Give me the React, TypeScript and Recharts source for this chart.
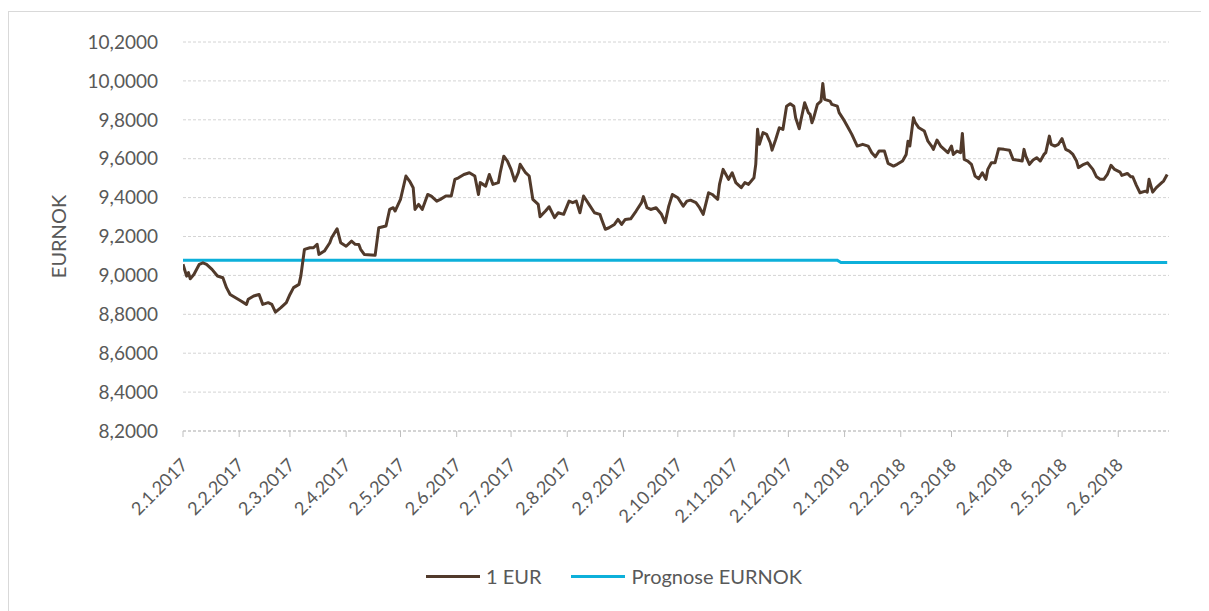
import React from 'react';
import { LineChart, Line, XAxis, YAxis, CartesianGrid, Legend } from 'recharts';

// day offsets counted from 2.1.2017
const dayOffsets = [
  0, 2, 3, 4, 6, 9, 11, 13, 16, 19, 22, 24, 26, 29, 32, 35, 36, 39, 42, 44, 47, 49, 51, 54, 57, 59, 61, 64, 65, 67, 70, 72, 74, 75, 78, 81, 82, 85, 87, 90, 93, 95,
  97, 98, 100, 106, 108, 112, 114, 116, 117, 120, 123, 125, 127, 128, 130, 132, 135, 137, 140, 142, 145, 148, 150, 152, 155, 158, 161, 163, 164, 167, 169, 171, 174, 175, 177, 179, 181, 183, 185, 186, 189, 191, 193, 196, 197, 200, 202,
  205, 207, 210, 213, 215, 217, 219, 221, 224, 227, 230, 231, 233, 235, 238, 240, 242, 244, 247, 250, 253, 254, 256, 258, 261, 264, 266, 268, 270, 273, 276, 278, 280, 283, 285, 287, 290, 292, 295, 296, 298, 299, 301, 303, 305,
  308, 310, 312, 315, 316, 317, 318, 320, 322, 324, 325, 327, 329, 331, 333, 335, 337, 338, 340, 341, 343, 345, 346, 347, 348, 350, 352, 353, 354, 357, 358, 361, 362, 365, 367, 369, 372, 375, 378, 380, 382, 384, 387, 389, 392, 394, 397, 399, 400, 401, 403, 404, 406, 409, 411,
  413, 414, 416, 418, 420, 422, 424, 425, 427, 429, 430, 431, 433, 435, 437, 439, 441, 443, 444, 446, 448, 450, 453, 456, 458, 460, 463, 464, 465, 467, 469, 471, 473, 475, 476, 478, 479, 481, 483, 485, 487, 489, 491, 493, 494, 497, 499, 502, 504, 506, 508, 510, 512, 514, 517, 518, 521, 523, 524, 526, 528, 531, 532, 533, 535, 537, 540, 541, 543,
];

const eurnok = [
  9.057, 8.996, 9.014, 8.983, 9.005, 9.057, 9.065, 9.057, 9.031, 8.997, 8.988, 8.937, 8.902, 8.885, 8.868, 8.851, 8.877, 8.894, 8.902, 8.851, 8.86, 8.851, 8.811, 8.834, 8.86, 8.902, 8.937, 8.954, 8.996, 9.134, 9.142, 9.142, 9.16, 9.108, 9.125, 9.168, 9.194, 9.24, 9.168, 9.15, 9.176, 9.16,
  9.159, 9.134, 9.108, 9.103, 9.245, 9.254, 9.339, 9.348, 9.331, 9.391, 9.511, 9.485, 9.451, 9.339, 9.365, 9.339, 9.416, 9.408, 9.382, 9.391, 9.408, 9.408, 9.494, 9.502, 9.519, 9.528, 9.511, 9.416, 9.477, 9.459, 9.519, 9.468, 9.477, 9.528, 9.613, 9.588, 9.545, 9.485, 9.528, 9.571, 9.528, 9.511, 9.391, 9.365, 9.302, 9.331, 9.353,
  9.297, 9.322, 9.314, 9.382, 9.374, 9.382, 9.322, 9.408, 9.365, 9.322, 9.314, 9.288, 9.237, 9.245, 9.262, 9.288, 9.262, 9.288, 9.291, 9.331, 9.374, 9.405, 9.348, 9.339, 9.348, 9.314, 9.271, 9.356, 9.416, 9.399, 9.356, 9.382, 9.387, 9.374, 9.348, 9.314, 9.425, 9.416, 9.391, 9.468, 9.545, 9.528, 9.494, 9.528, 9.477,
  9.451, 9.477, 9.468, 9.502, 9.571, 9.751, 9.674, 9.734, 9.725, 9.682, 9.644, 9.699, 9.759, 9.751, 9.87, 9.883, 9.87, 9.811, 9.754, 9.802, 9.888, 9.837, 9.828, 9.785, 9.811, 9.879, 9.896, 9.987, 9.905, 9.896, 9.879, 9.87, 9.837, 9.793, 9.759, 9.725, 9.665, 9.674, 9.665, 9.631, 9.61, 9.639, 9.639, 9.576, 9.562, 9.571, 9.588, 9.622, 9.69, 9.665, 9.811, 9.785, 9.759, 9.742, 9.69,
  9.665, 9.648, 9.696, 9.665, 9.648, 9.631, 9.665, 9.622, 9.639, 9.631, 9.73, 9.596, 9.588, 9.571, 9.511, 9.497, 9.528, 9.494, 9.545, 9.579, 9.579, 9.651, 9.648, 9.644, 9.596, 9.593, 9.588, 9.648, 9.613, 9.571, 9.593, 9.605, 9.588, 9.622, 9.631, 9.716, 9.674, 9.665, 9.674, 9.703, 9.648, 9.639, 9.622, 9.588, 9.554, 9.571, 9.579, 9.545, 9.507, 9.494, 9.494, 9.519, 9.566, 9.545, 9.531, 9.514, 9.524, 9.507, 9.507, 9.463, 9.425, 9.433, 9.428, 9.494, 9.428, 9.451, 9.477, 9.485, 9.519,
];

const prognoseDays = [0, 361, 363, 543];
const prognoseValues = [9.078, 9.078, 9.066, 9.066];

const monthTicks = [
  '2.1.2017', '2.2.2017', '2.3.2017', '2.4.2017', '2.5.2017', '2.6.2017', '2.7.2017', '2.8.2017', '2.9.2017',
  '2.10.2017', '2.11.2017', '2.12.2017', '2.1.2018', '2.2.2018', '2.3.2018', '2.4.2018', '2.5.2018', '2.6.2018',
];
const yTicks = [8.2, 8.4, 8.6, 8.8, 9.0, 9.2, 9.4, 9.6, 9.8, 10.0, 10.2];

const BROWN = '#513a2b';
const BLUE = '#0db0da';
const TEXT = '#595959';
const GRID = '#d4d4d4';

const START = Date.UTC(2017, 0, 2);
const toDay = (label: string) => {
  const [d, m, y] = label.split('.').map(Number);
  return Math.round((Date.UTC(y, m - 1, d) - START) / 86400000);
};
const tickDays = monthTicks.map(toDay);
const labelByDay = new Map(tickDays.map((d, i) => [d, monthTicks[i]]));

const rateData = dayOffsets.map((day, i) => ({ day, rate: eurnok[i] }));
const prognoseData = prognoseDays.map((day, i) => ({ day, prognose: prognoseValues[i] }));

const fmtY = (v: number) => v.toFixed(4).replace('.', ',');

function DateTick({ x, y, payload }: any) {
  const ax = x + 6;
  const ay = y + 27;
  return (
    <text x={ax} y={ay} transform={`rotate(-45 ${ax} ${ay})`} textAnchor="end" fill={TEXT} fontSize={18}>
      {labelByDay.get(payload.value) ?? ''}
    </text>
  );
}

function YTitle({ viewBox }: any) {
  const cx = viewBox.x + 49;
  const cy = viewBox.y + viewBox.height / 2;
  return (
    <text x={cx} y={cy} transform={`rotate(-90 ${cx} ${cy})`} textAnchor="middle" dominantBaseline="central" fill={TEXT} fontSize={20}>
      EURNOK
    </text>
  );
}

const legendItems = [
  { label: '1 EUR', color: BROWN },
  { label: 'Prognose EURNOK', color: BLUE },
];

function LegendContent() {
  return (
    <div style={{ display: 'flex', justifyContent: 'center', alignItems: 'center', height: 30, paddingLeft: 50, color: TEXT, fontSize: 20 }}>
      {legendItems.map((it, i) => (
        <div key={it.label} style={{ display: 'flex', alignItems: 'center', marginLeft: i ? 30 : 0 }}>
          <span style={{ display: 'inline-block', width: 54, height: 3, background: it.color, marginRight: 6 }} />
          <span>{it.label}</span>
        </div>
      ))}
    </div>
  );
}

export default function App() {
  // the frame runs past the right and bottom edge of the picture, so only top and left show
  return (
    <div
      style={{
        marginTop: 3,
        width: 1201,
        height: 600,
        borderTop: '1px solid #d9d9d9',
        borderLeft: '1px solid #d9d9d9',
        boxSizing: 'border-box',
        fontFamily: 'Lato, sans-serif',
        background: '#fff',
      }}
    >
      <LineChart width={1198} height={595} margin={{ top: 30, right: 38, left: 0, bottom: 16 }}>
        <CartesianGrid vertical={false} stroke={GRID} strokeDasharray="3 2" />
        <XAxis
          dataKey="day"
          type="number"
          domain={[0, 544]}
          ticks={tickDays}
          interval={0}
          height={130}
          tick={<DateTick />}
          tickSize={6}
          tickMargin={2}
          axisLine={{ stroke: '#bfbfbf', strokeDasharray: '3 2' }}
          tickLine={{ stroke: '#bfbfbf' }}
          allowDataOverflow
        />
        <YAxis
          type="number"
          domain={[8.2, 10.2]}
          ticks={yTicks}
          interval={0}
          width={174}
          tickFormatter={fmtY}
          tick={{ fill: TEXT, fontSize: 19 }}
          tickSize={0}
          tickMargin={25}
          axisLine={false}
          tickLine={false}
          label={<YTitle />}
        />
        <Legend verticalAlign="bottom" height={30} content={<LegendContent />} />
        <Line
          data={prognoseData}
          dataKey="prognose"
          name="Prognose EURNOK"
          stroke={BLUE}
          strokeWidth={3}
          dot={false}
          isAnimationActive={false}
        />
        <Line
          data={rateData}
          dataKey="rate"
          name="1 EUR"
          stroke={BROWN}
          strokeWidth={3}
          strokeLinejoin="round"
          dot={false}
          isAnimationActive={false}
        />
      </LineChart>
    </div>
  );
}
